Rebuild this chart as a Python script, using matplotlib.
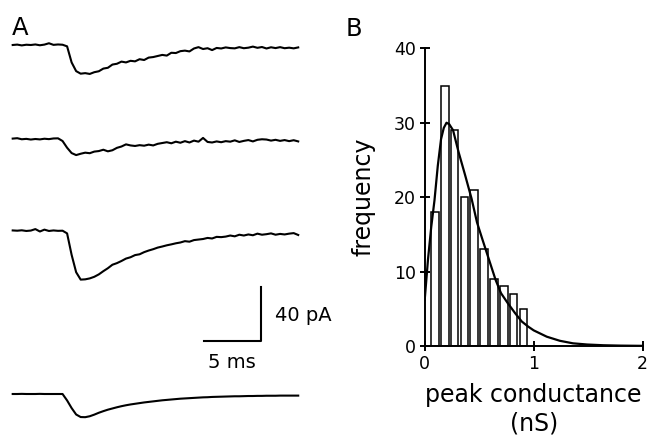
import numpy as np
import matplotlib
matplotlib.use("Agg")
import matplotlib.pyplot as plt

plt.rcParams['font.family'] = ['DejaVu Sans']

# ---------------- data ----------------
# Panel A: sample times (ms) and currents (pA, relative to baseline)
n_samples = 64
sample_step_ms = 0.4
trace1 = [0, 0.3, -0.3, 0.2, 0.0, 0.4, -0.2, 0.3, 1.3, 0.1, 0.4, 0.2,
          -1.0, -13.0, -19.5, -21.4, -21.0, -21.6, -20.3, -19.6, -17.6, -17.0,
          -14.6, -14.0, -12.4, -13.0, -11.8, -12.2, -10.6, -11.2, -9.4, -9.0,
          -8.2, -7.4, -7.9, -5.8, -6.0, -4.6, -4.2, -4.8, -2.6, -1.6, -3.0,
          -2.4, -3.8, -2.2, -2.6, -1.8, -2.3, -2.5, -1.6, -2.4, -2.0, -1.2,
          -2.1, -1.5, -2.6, -1.7, -2.3, -1.6, -2.4, -2.0, -2.5, -1.8]
trace2 = [0.3, 0.6, -0.2, 0.1, -0.4, 0.0, -0.3, 0.2, -0.1, 0.4, 0.5,
          -1.5, -6.5, -10.5, -12.0, -11.0, -10.2, -10.6, -9.4, -9.0, -8.0,
          -9.2, -8.4, -6.6, -5.6, -4.0, -4.8, -5.2, -4.6, -5.0, -4.2, -4.8,
          -3.6, -3.0, -2.4, -3.2, -2.0, -2.8, -1.6, -2.6, -1.2, -2.0, 0.8,
          -2.2, -2.6, -1.8, -2.4, -1.6, -2.0, -1.0, -2.2, -1.4, -0.8, -1.8,
          -0.6, -0.2, -0.4, -1.2, -0.6, -1.4, -0.8, -1.6, -0.9, -1.8]
trace3 = [0.2, 0.0, 0.3, -0.2, 0.1, 1.2, -0.6, 0.8, -0.2, 0.2, -0.1, 0.0,
          -2.0, -18.0, -31.0, -36.5, -36.3, -35.6, -34.4, -32.6, -30.2, -28.0,
          -25.4, -24.2, -22.6, -20.8, -19.8, -18.2, -17.6, -16.0, -14.8,
          -13.8, -12.6, -11.8, -10.9, -10.2, -9.4, -8.8, -7.8, -8.2, -7.0,
          -6.6, -6.2, -5.4, -5.8, -4.6, -4.8, -4.4, -3.6, -4.2, -3.0, -3.6,
          -2.8, -3.4, -2.2, -3.0, -2.6, -2.0, -3.0, -2.4, -2.8, -2.2, -1.8, -3.2]
trace4 = [0, 0, 0.1, 0, 0, 0, 0.1, 0, 0, 0, 0, 0.0,
          -4.8, -10.5, -15.3, -17.2, -17.3, -16.6, -15.4, -14.0, -12.8, -11.7,
          -10.8, -9.9, -9.1, -8.4, -7.8, -7.3, -6.8, -6.3, -5.9, -5.5, -5.1,
          -4.7, -4.4, -4.1, -3.8, -3.5, -3.3, -3.1, -2.9, -2.7, -2.5, -2.4,
          -2.2, -2.1, -2.0, -1.9, -1.8, -1.7, -1.7, -1.6, -1.5, -1.5, -1.4,
          -1.4, -1.3, -1.3, -1.3, -1.2, -1.2, -1.2, -1.2, -1.2]
scale_time_ms = 5
scale_current_pA = 40

# Panel B: histogram of peak conductance
bin_centers = [0.095, 0.185, 0.275, 0.365, 0.455, 0.545, 0.635, 0.725, 0.815, 0.905]
counts = [18, 35, 29, 20, 21, 13, 9, 8, 7, 5]
fit_x = [0.0, 0.03, 0.06, 0.09, 0.12, 0.15, 0.175, 0.2, 0.225, 0.26, 0.31,
         0.37, 0.43, 0.48, 0.53, 0.59, 0.65, 0.70, 0.76, 0.83, 0.89, 0.95,
         1.0, 1.12, 1.24, 1.36, 1.49, 1.64, 1.8, 2.0]
fit_y = [6.2, 11.6, 16.0, 19.6, 24.2, 27.8, 29.3, 30.0, 29.8, 29.0, 26.1,
         23.0, 19.8, 16.6, 14.3, 11.6, 8.9, 7.1, 5.8, 4.4, 3.3, 2.6,
         2.1, 1.25, 0.7, 0.36, 0.2, 0.1, 0.05, 0.02]
x_ticks = [0, 1, 2]
y_ticks = [0, 10, 20, 30, 40]

# ---------------- figure ----------------
W, H = 652, 436
fig = plt.figure(figsize=(W / 100, H / 100), dpi=100)

# Panel A (traces) -- 11.33 px per ms, 1.34 px per pA
px_per_ms = 11.33
px_per_pA = 1.34
axA_w_px = 330
axA = fig.add_axes([0, 0, axA_w_px / W, 1])
x0_px = 12.7
axA.set_xlim(-x0_px / px_per_ms, (axA_w_px - x0_px) / px_per_ms)
axA.set_ylim(-H / px_per_pA, 0)
axA.axis('off')

t = np.arange(n_samples) * sample_step_ms
baselines_px = [45, 139, 230.7, 394]
for tr, b in zip([trace1, trace2, trace3, trace4], baselines_px):
    axA.plot(t, np.array(tr) - b / px_per_pA, color='black', lw=1.5,
             solid_joinstyle='round')

# scale bar
sb_right = (260.7 - x0_px) / px_per_ms
sb_bottom = -340.7 / px_per_pA
axA.plot([sb_right - scale_time_ms, sb_right, sb_right],
         [sb_bottom, sb_bottom, sb_bottom + scale_current_pA],
         color='black', lw=1.5)
axA.text((275 - x0_px) / px_per_ms, -320.7 / px_per_pA,
         f"{scale_current_pA} pA", fontsize=14, ha='left', va='baseline')
axA.text(sb_right - scale_time_ms / 2, -368 / px_per_pA,
         f"{scale_time_ms} ms", fontsize=14, ha='center', va='baseline')

# Panel B (histogram)
left_px, right_px, bottom_px, top_px = 424.7, 642.7, 346, 48.3
axB = fig.add_axes([left_px / W, (H - bottom_px) / H,
                    (right_px - left_px) / W, (bottom_px - top_px) / H])
axB.bar(bin_centers, counts, width=0.07, facecolor='white',
        edgecolor='black', linewidth=1.1, zorder=2)
axB.plot(fit_x, fit_y, color='black', lw=1.6, zorder=3)
axB.set_xlim(0, 2)
axB.set_ylim(0, 40)
axB.set_xticks(x_ticks)
axB.set_yticks(y_ticks)
for s in ['top', 'right']:
    axB.spines[s].set_visible(False)
for s in ['left', 'bottom']:
    axB.spines[s].set_linewidth(1.4)
    axB.spines[s].set_zorder(4)
axB.tick_params(direction='inout', length=7, width=1.4, labelsize=12.5, pad=3)
axB.set_xlabel("peak conductance\n(nS)", fontsize=17, linespacing=1.25, labelpad=7)
axB.set_ylabel("frequency", fontsize=17, labelpad=13)

# panel letters
fig.text(11.7 / W, (H - 35) / H, "A", fontsize=17.5, ha='left', va='baseline')
fig.text(346 / W, (H - 36) / H, "B", fontsize=17.5, ha='left', va='baseline')

fig.savefig("out.png", dpi=100)
